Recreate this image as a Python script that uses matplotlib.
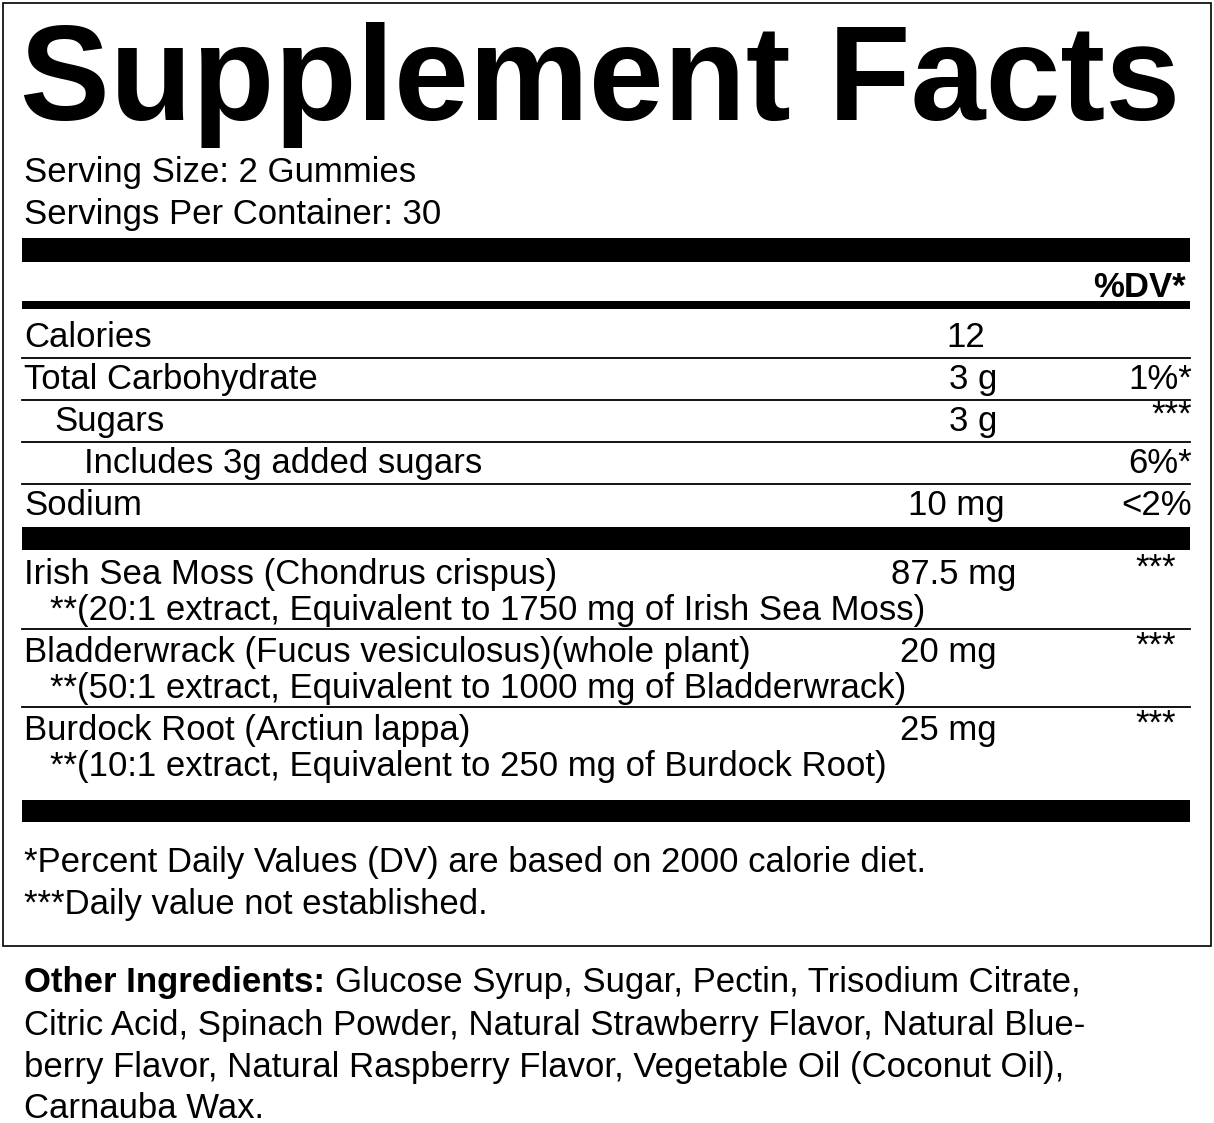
import matplotlib.pyplot as plt
from matplotlib.patches import Rectangle

plt.rcParams['font.family'] = ['Liberation Sans', 'DejaVu Sans']

W, H = 1214, 1123

serving = ["Serving Size: 2 Gummies", "Servings Per Container: 30"]

nutr_names = ["Calories", "Total Carbohydrate", "Sugars", "Includes 3g added sugars", "Sodium"]
nutr_indent = [0, 0, 1, 2, 0]
nutr_amount = ["12", "3 g", "3 g", "", "10 mg"]
nutr_dv = ["", "1%*", "***", "6%*", "<2%"]

herb_names = ["Irish Sea Moss (Chondrus crispus)",
              "Bladderwrack (Fucus vesiculosus)(whole plant)",
              "Burdock Root (Arctiun lappa)"]
herb_notes = ["**(20:1 extract, Equivalent to 1750 mg of Irish Sea Moss)",
              "**(50:1 extract, Equivalent to 1000 mg of Bladderwrack)",
              "**(10:1 extract, Equivalent to 250 mg of Burdock Root)"]
herb_amount = ["87.5 mg", "20 mg", "25 mg"]
herb_dv = ["***", "***", "***"]

footnotes = ["*Percent Daily Values (DV) are based on 2000 calorie diet.",
             "***Daily value not established."]

other_lines = ["Glucose Syrup, Sugar, Pectin, Trisodium Citrate,",
               "Citric Acid, Spinach Powder, Natural Strawberry Flavor, Natural Blue-",
               "berry Flavor, Natural Raspberry Flavor, Vegetable Oil (Coconut Oil),",
               "Carnauba Wax."]

fig = plt.figure(figsize=(W / 100, H / 100), dpi=100)
ax = fig.add_axes([0, 0, 1, 1])
ax.set_xlim(0, W)
ax.set_ylim(H, 0)
ax.axis('off')

fs = 25
L, R = 22, 1190

# outer box
ax.add_patch(Rectangle((3, 3), 1208, 943, fill=False, lw=1.2, ec='black'))


def bar(y0, y1):
    ax.add_patch(Rectangle((L, y0), R - L, y1 - y0, color='black', lw=0))


def hline(y):
    ax.plot([L, R], [y, y], color='black', lw=1.3)


ax.text(L - 2, 120, "Supplement Facts", fontsize=97, fontweight='bold', va='baseline')
for i, s in enumerate(serving):
    ax.text(L + 2, 182 + 42 * i, s, fontsize=fs, va='baseline')

bar(238, 262)
ax.text(1186, 297, "%DV*", fontsize=fs, fontweight='bold', ha='right', va='baseline')
bar(301, 309)

ys = [347, 389, 431, 473, 515]
for i, name in enumerate(nutr_names):
    ax.text(L + 2 + 30 * nutr_indent[i], ys[i], name, fontsize=fs, va='baseline')
    ax.text(1005 if nutr_amount[i].endswith('mg') else 985 if nutr_amount[i] == "12" else 997,
            ys[i], nutr_amount[i], fontsize=fs, ha='right', va='baseline')
    dy = -6 if nutr_dv[i] == "***" else 0
    ax.text(1192, ys[i] + dy, nutr_dv[i], fontsize=fs, ha='right', va='baseline')
    if i < len(nutr_names) - 1:
        hline(ys[i] + 11)

bar(527, 550)

hy = [584, 662, 740]
ends = [1016, 997, 997]
for i, name in enumerate(herb_names):
    ax.text(L + 2, hy[i], name, fontsize=fs, va='baseline')
    ax.text(ends[i], hy[i], herb_amount[i], fontsize=fs, ha='right', va='baseline')
    ax.text(1176, hy[i] - 6, herb_dv[i], fontsize=fs, ha='right', va='baseline')
    ax.text(L + 28, hy[i] + 36, herb_notes[i], fontsize=fs, va='baseline')
    if i < len(herb_names) - 1:
        hline(hy[i] + 45)

bar(800, 822)

for i, s in enumerate(footnotes):
    ax.text(L + 2, 872 + 42 * i, s, fontsize=fs, va='baseline')

oy = [992, 1035, 1077, 1118]
t = ax.text(L + 2, oy[0], "Other Ingredients:", fontsize=fs, fontweight='bold', va='baseline')
fig.canvas.draw()
bb = t.get_window_extent()
ax.text(bb.x1 + 10, oy[0], other_lines[0], fontsize=fs, va='baseline')
for i in range(1, 4):
    ax.text(L + 2, oy[i], other_lines[i], fontsize=fs, va='baseline')

fig.savefig("out.png", dpi=100)
